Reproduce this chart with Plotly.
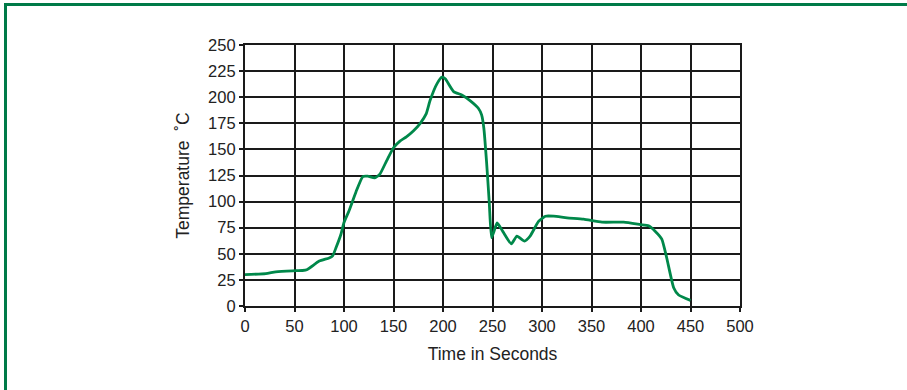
import plotly.graph_objects as go

time_s = [0, 21, 31, 48, 58, 63, 75, 85, 88.5, 92, 97, 100, 105, 112, 119, 124, 131, 136, 143, 150,
          156.5, 163, 170, 177, 183, 187, 194, 199, 202.3, 210.7, 219, 227.3, 235.7, 239, 241.3, 244,
          246.7, 249, 251.3, 254.7, 260.7, 269, 274.7, 282.3, 288, 296.5, 303.4, 311.8, 325.3, 342,
          360.6, 382.5, 399.3, 407.7, 414.5, 421, 426, 433, 438, 450]
temp_c = [30.1, 31, 32.7, 33.7, 34, 35, 43, 46, 48, 56, 69, 80, 91, 109, 124, 124.4, 122.8, 126, 139, 151.6,
          158, 162, 167.6, 175, 184, 197, 213, 219.2, 217.6, 205.4, 202.2, 196.8, 189.4, 183, 170, 138,
          99.6, 65.4, 71, 79.5, 71, 59.6, 67, 62.2, 67, 81, 86, 86, 84.4, 83.2,
          80.3, 80.3, 78, 76.8, 71.4, 64, 46, 17.5, 10.5, 5.4]

x_ticks = [0, 50, 100, 150, 200, 250, 300, 350, 400, 450, 500]
y_ticks = [0, 25, 50, 75, 100, 125, 150, 175, 200, 225, 250]

fig = go.Figure()
fig.add_trace(go.Scatter(x=time_s, y=temp_c, mode="lines",
                         line=dict(color="#00884a", width=2.8, shape="spline", smoothing=0.5),
                         showlegend=False, hoverinfo="x+y"))

tick_font = dict(family="Liberation Sans, Arial, sans-serif", size=16.5, color="#222222")
title_font = dict(family="Liberation Sans, Arial, sans-serif", size=17.5, color="#222222")

fig.update_layout(
    width=907, height=390,
    margin=dict(l=245, r=167, t=45, b=84),
    paper_bgcolor="white", plot_bgcolor="white",
    font=tick_font,
    xaxis=dict(range=[0, 500], tickvals=x_ticks, ticktext=[str(v) for v in x_ticks],
               tickfont=tick_font,
               showgrid=True, gridcolor="#1a1a1a", gridwidth=1.6,
               showline=True, linecolor="#1a1a1a", linewidth=2.2, mirror=True,
               ticks="outside", ticklen=4, tickwidth=1.5, tickcolor="#1a1a1a",
               zeroline=False, fixedrange=True,
               title=dict(text="Time in Seconds", standoff=14, font=title_font)),
    yaxis=dict(range=[0, 250], tickvals=y_ticks, ticktext=[str(v) for v in y_ticks],
               tickfont=tick_font,
               showgrid=True, gridcolor="#1a1a1a", gridwidth=1.6,
               showline=True, linecolor="#1a1a1a", linewidth=2.2, mirror=True,
               ticks="outside", ticklen=4, tickwidth=1.5, tickcolor="#1a1a1a",
               zeroline=False, fixedrange=True,
               title=dict(text="Temperature  \u02daC", standoff=14, font=title_font)),
    shapes=[
        dict(type="line", xref="paper", yref="paper",
             x0=(5 - 245) / 495, x1=(910 - 245) / 495,
             y0=(306 - 4.5) / 261, y1=(306 - 4.5) / 261,
             line=dict(color="#007a48", width=3)),
        dict(type="line", xref="paper", yref="paper",
             x0=(5.5 - 245) / 495, x1=(5.5 - 245) / 495,
             y0=(306 - 3) / 261, y1=(306 - 395) / 261,
             line=dict(color="#007a48", width=3)),
    ],
)

fig.write_html("out.html", config={"displayModeBar": False},
               post_script="document.body.style.margin='0';document.body.style.overflow='hidden';")
